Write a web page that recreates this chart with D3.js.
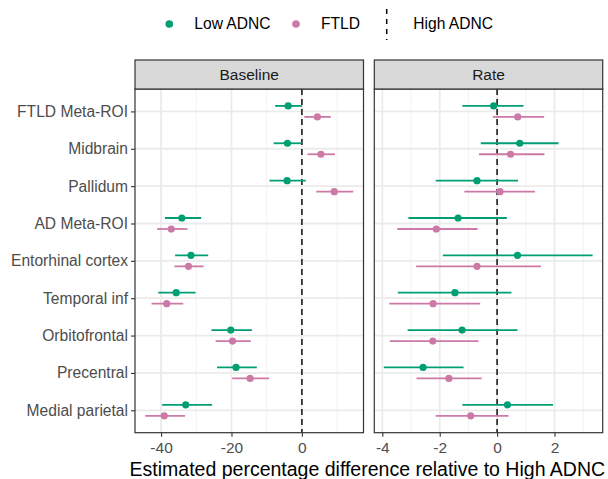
<!DOCTYPE html>
<html>
<head>
<meta charset="utf-8">
<script src="https://cdn.jsdelivr.net/npm/d3@7"></script>
<style>
  body { margin: 0; background: #fff; }
  svg { display: block; font-family: "Liberation Sans", Arial, sans-serif; }
</style>
</head>
<body>
<div id="chart"></div>
<script>
const regions = ['FTLD Meta-ROI', 'Midbrain', 'Pallidum', 'AD Meta-ROI', 'Entorhinal cortex',
                 'Temporal inf', 'Orbitofrontal', 'Precentral', 'Medial parietal'];

// [estimate, lower, upper] per region
const baselineLow  = [[-3.9, -7.6, 0.0], [-4.1, -8.0, 0.0], [-4.2, -9.2, 1.1], [-34.1, -38.9, -28.6],
                      [-31.5, -36.0, -26.6], [-35.7, -40.8, -30.2], [-20.2, -25.7, -14.2],
                      [-18.7, -24.1, -12.8], [-33.0, -39.7, -25.5]];
const baselineFtld = [[4.4, 0.7, 8.2], [5.4, 1.6, 9.4], [9.2, 4.1, 14.6], [-37.1, -41.1, -32.5],
                      [-32.2, -36.2, -27.9], [-38.4, -42.7, -33.7], [-19.7, -24.5, -14.5],
                      [-14.7, -19.8, -9.3], [-39.1, -44.5, -33.2]];
const rateLow      = [[-0.12, -1.21, 0.92], [0.79, -0.57, 2.14], [-0.70, -2.14, 0.73], [-1.36, -3.09, 0.34],
                      [0.71, -1.89, 3.33], [-1.47, -3.46, 0.50], [-1.22, -3.12, 0.71],
                      [-2.58, -3.95, -1.17], [0.36, -1.21, 1.95]];
const rateFtld     = [[0.72, -0.15, 1.64], [0.47, -0.63, 1.65], [0.10, -1.14, 1.32], [-2.12, -3.48, -0.68],
                      [-0.70, -2.82, 1.53], [-2.23, -3.76, -0.59], [-2.24, -3.74, -0.65],
                      [-1.68, -2.81, -0.54], [-0.92, -2.14, 0.40]];

const groups      = ['Low ADNC', 'FTLD'];
const groupColors = ['#009E73', '#CC79A7'];
const panelNames  = ['Baseline', 'Rate'];
const panelTicks  = [[-40, -20, 0], [-4, -2, 0, 2]];
const panelMinor  = [[-30, -10, 10], [-3, -1, 1, 3]];
const panelDomain = [[-47.4, 17.5], [-4.28, 3.68]];
const xTitle = 'Estimated percentage difference relative to High ADNC';
const refLabel = 'High ADNC';

const width = 608, height = 479;
const panelTop = 89, panelBottom = 432.7, stripTop = 60;
const panelX = [[135, 363.5], [374.3, 602.7]];
const dodge = 5.5;
const font = '"Liberation Sans", Arial, sans-serif';

const svg = d3.select('#chart').append('svg')
  .attr('width', width)
  .attr('height', height);

const y = d3.scalePoint()
  .domain(regions)
  .range([panelTop, panelBottom])
  .padding(0.6);

const seriesByPanel = [[baselineLow, baselineFtld], [rateLow, rateFtld]];

panelNames.forEach((name, p) => {
  const [x0, x1] = panelX[p];
  const x = d3.scaleLinear().domain(panelDomain[p]).range([x0, x1]);
  const g = svg.append('g');

  // panel background + grid
  g.append('rect')
    .attr('x', x0).attr('y', panelTop)
    .attr('width', x1 - x0).attr('height', panelBottom - panelTop)
    .attr('fill', '#fff');

  g.selectAll('.minor').data(panelMinor[p]).enter().append('line')
    .attr('x1', d => x(d)).attr('x2', d => x(d))
    .attr('y1', panelTop).attr('y2', panelBottom)
    .attr('stroke', '#F2F2F2').attr('stroke-width', 1);

  g.selectAll('.majorx').data(panelTicks[p]).enter().append('line')
    .attr('x1', d => x(d)).attr('x2', d => x(d))
    .attr('y1', panelTop).attr('y2', panelBottom)
    .attr('stroke', '#EBEBEB').attr('stroke-width', 1.8);

  g.selectAll('.majory').data(regions).enter().append('line')
    .attr('x1', x0).attr('x2', x1)
    .attr('y1', d => y(d)).attr('y2', d => y(d))
    .attr('stroke', '#EBEBEB').attr('stroke-width', 1.8);

  // reference line
  g.append('line')
    .attr('x1', x(0)).attr('x2', x(0))
    .attr('y1', panelTop).attr('y2', panelBottom)
    .attr('stroke', '#333').attr('stroke-width', 1.8)
    .attr('stroke-dasharray', '6,4');

  // error bars + points
  seriesByPanel[p].forEach((series, s) => {
    const off = s === 0 ? -dodge : dodge;
    g.selectAll('.bar' + s).data(series).enter().append('line')
      .attr('x1', d => x(d[1])).attr('x2', d => x(d[2]))
      .attr('y1', (d, i) => y(regions[i]) + off)
      .attr('y2', (d, i) => y(regions[i]) + off)
      .attr('stroke', groupColors[s]).attr('stroke-width', 1.8);
    g.selectAll('.pt' + s).data(series).enter().append('circle')
      .attr('cx', d => x(d[0]))
      .attr('cy', (d, i) => y(regions[i]) + off)
      .attr('r', 3.6)
      .attr('fill', groupColors[s]);
  });

  // panel border
  g.append('rect')
    .attr('x', x0).attr('y', panelTop)
    .attr('width', x1 - x0).attr('height', panelBottom - panelTop)
    .attr('fill', 'none').attr('stroke', '#333').attr('stroke-width', 1.2);

  // strip
  g.append('rect')
    .attr('x', x0).attr('y', stripTop)
    .attr('width', x1 - x0).attr('height', panelTop - stripTop)
    .attr('fill', '#D9D9D9').attr('stroke', '#333').attr('stroke-width', 1.2);
  g.append('text')
    .attr('x', (x0 + x1) / 2).attr('y', (stripTop + panelTop) / 2)
    .attr('dy', '0.35em')
    .attr('text-anchor', 'middle')
    .style('font-size', '15.5px').attr('fill', '#1A1A1A')
    .text(name);

  // x axis
  const ax = g.append('g')
    .attr('transform', `translate(0,${panelBottom})`)
    .call(d3.axisBottom(x).tickValues(panelTicks[p]).tickSize(4).tickPadding(5)
      .tickFormat(d => d < 0 ? '-' + Math.abs(d) : d));
  ax.select('.domain').remove();
  ax.selectAll('line').attr('stroke', '#333').attr('stroke-width', 1.1);
  ax.selectAll('text').attr('fill', '#4D4D4D').style('font-size', '15.5px')
    .style('font-family', font);
});

// y axis
const ay = svg.append('g')
  .attr('transform', `translate(${panelX[0][0]},0)`)
  .call(d3.axisLeft(y).tickSize(4).tickPadding(3));
ay.select('.domain').remove();
ay.selectAll('line').attr('stroke', '#333').attr('stroke-width', 1.1);
ay.selectAll('text').attr('fill', '#4D4D4D').style('font-size', '15.6px')
  .style('font-family', font);

// x title
svg.append('text')
  .attr('x', (panelX[0][0] + panelX[1][1]) / 2 - 1.5)
  .attr('y', 475.5)
  .attr('text-anchor', 'middle')
  .style('font-size', '19.5px').attr('fill', '#000')
  .text(xTitle);

// legend
const legend = svg.append('g');
const legendDotX = [169.3, 296];
groups.forEach((grp, i) => {
  legend.append('circle')
    .attr('cx', legendDotX[i]).attr('cy', 24).attr('r', 3.8)
    .attr('fill', groupColors[i]);
  legend.append('text')
    .attr('x', legendDotX[i] + 25).attr('y', 24).attr('dy', '0.35em')
    .style('font-size', '15.6px').attr('fill', '#000')
    .text(grp);
});
legend.append('line')
  .attr('x1', 386.7).attr('x2', 386.7)
  .attr('y1', 9).attr('y2', 40)
  .attr('stroke', '#000').attr('stroke-width', 1.5)
  .attr('stroke-dasharray', '5,5');
legend.append('text')
  .attr('x', 413.3).attr('y', 24).attr('dy', '0.35em')
  .style('font-size', '15.6px').attr('fill', '#000')
  .text(refLabel);
</script>
</body>
</html>
